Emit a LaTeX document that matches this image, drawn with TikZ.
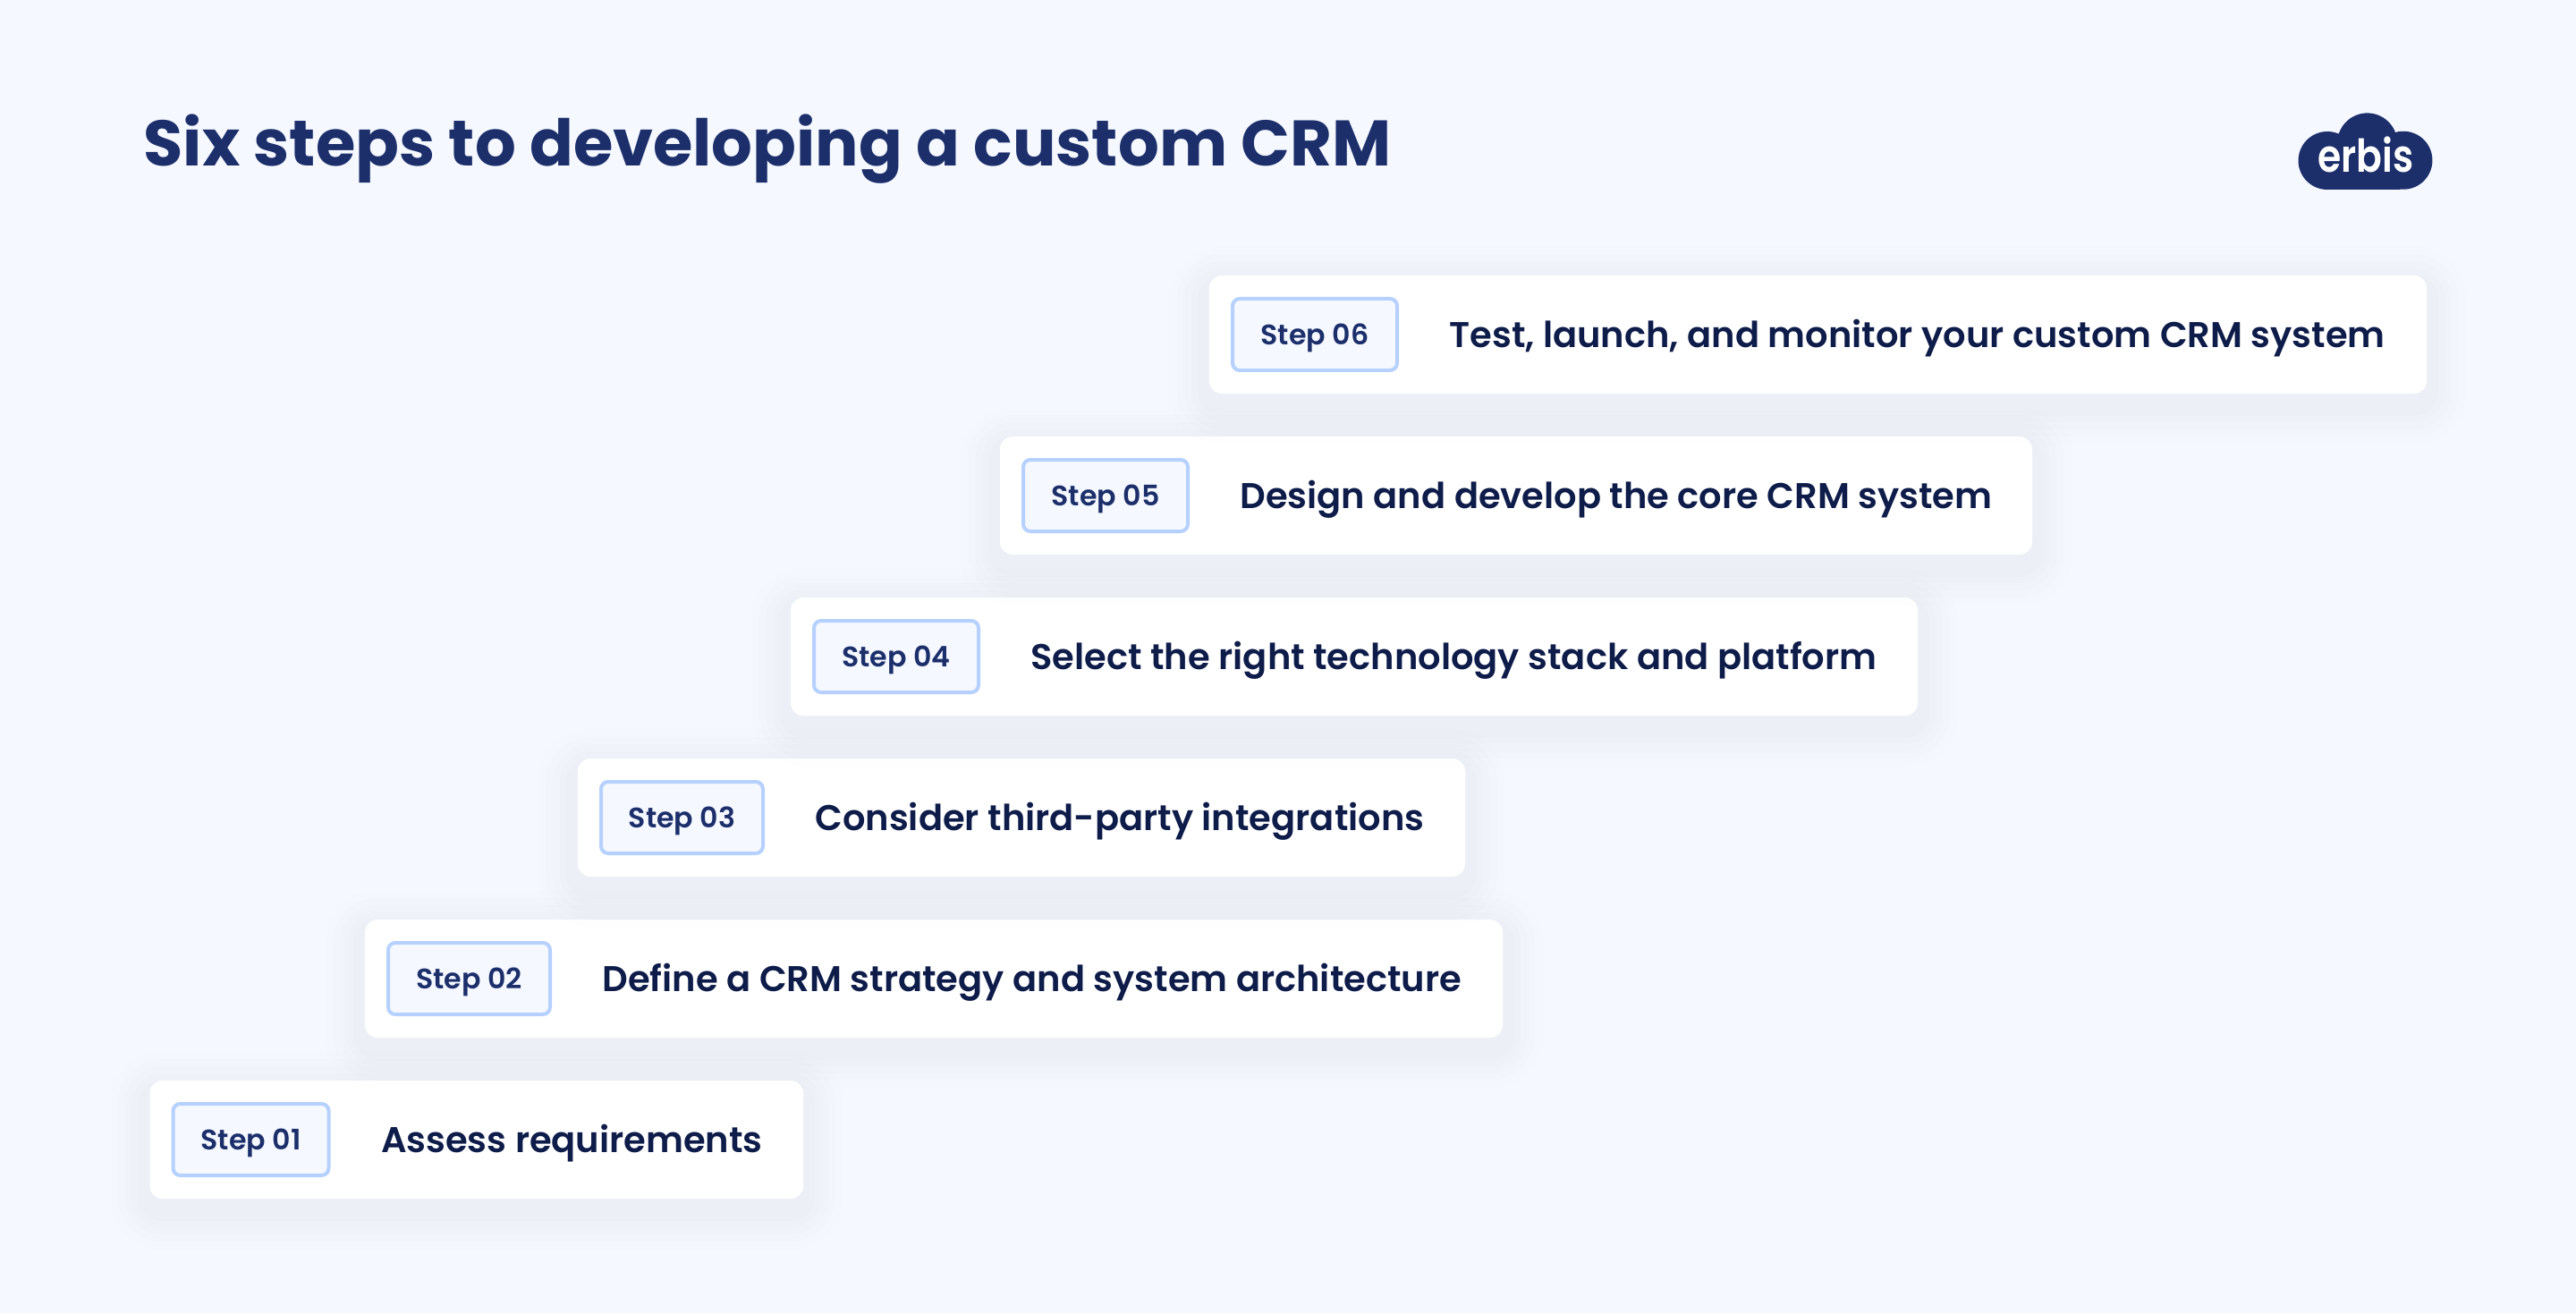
\documentclass[tikz,border=0pt]{standalone}
\usepackage{fontspec}
\setmainfont{Poppins}
\newfontfamily\semifont{Poppins SemiBold}
\usepackage{xcolor}
\usepackage{tikz}
\usetikzlibrary{positioning}

\definecolor{pagebg}{HTML}{F5F8FF}
\definecolor{navy}{HTML}{1C2F6B}
\definecolor{inkblue}{HTML}{0E1C4A}
\definecolor{tagline}{HTML}{B6D1FF}

\tikzset{
	softshadow/.style={
		preaction={draw=navy,draw opacity=.005,line width=.90cm,transform canvas={yshift=-.12cm}},
		preaction={draw=navy,draw opacity=.006,line width=.72cm,transform canvas={yshift=-.12cm}},
		preaction={draw=navy,draw opacity=.007,line width=.56cm,transform canvas={yshift=-.12cm}},
		preaction={draw=navy,draw opacity=.008,line width=.40cm,transform canvas={yshift=-.12cm}},
		preaction={draw=navy,draw opacity=.009,line width=.26cm,transform canvas={yshift=-.12cm}}},
	card/.style={softshadow,fill=white,rounded corners=.14cm,anchor=north west,
		minimum height=1.32cm,inner sep=0pt,outer sep=0pt},
	stepbox/.style={draw=tagline,line width=.04cm,fill=pagebg,rounded corners=.08cm,
		minimum height=.80cm,inner sep=0pt,outer sep=0pt,text=navy,
		font=\semifont\fontsize{9}{11}\selectfont,text height=.23cm,text depth=0pt},
	steptext/.style={inner sep=0pt,outer sep=0pt,text=inkblue,
		font=\semifont\fontsize{11.38}{14}\selectfont,text height=.29cm,text depth=0pt}
}

\begin{document}
\begin{tikzpicture}[node distance=.585cm]
	\fill[pagebg] (0,0) rectangle (28.8,14.68);
	\useasboundingbox (0,0) rectangle (28.8,14.68);

	\node[anchor=base west,inner sep=0pt,text=navy,font=\bfseries\fontsize{20.48}{26}\selectfont] (title) at (1.60,12.82) {Six steps to developing a custom CRM};

	% logo
	\fill[navy] (26.02,12.56) arc[start angle=270,end angle=67,radius=.325]
		-- (26.15,13.19) arc[start angle=161,end angle=21,radius=.335]
		-- (26.78,13.2) arc[start angle=106,end angle=-90,radius=.325] -- cycle;
	\node[anchor=base,text=white,inner sep=0pt,font=\semifont\fontsize{14.4}{16}\selectfont,xscale=.84] (logo) at (26.45,12.75) {erbis};

	% cards, bottom to top
	\node[card,minimum width=7.305cm] (c1) at (1.675,2.60) {};
	\node[card,minimum width=12.72cm] (c2) at (4.08,4.40) {};
	\node[card,minimum width=9.92cm] (c3) at (6.46,6.20) {};
	\node[card,minimum width=12.60cm] (c4) at (8.84,8.00) {};
	\node[card,minimum width=11.54cm] (c5) at (11.18,9.80) {};
	\node[card,minimum width=13.61cm] (c6) at (13.52,11.60) {};

	\node[stepbox,minimum width=1.74cm,right=.26cm of c1.west] (s1) {Step 01};
	\node[stepbox,minimum width=1.81cm,right=.26cm of c2.west] (s2) {Step 02};
	\node[stepbox,minimum width=1.81cm,right=.26cm of c3.west] (s3) {Step 03};
	\node[stepbox,minimum width=1.84cm,right=.26cm of c4.west] (s4) {Step 04};
	\node[stepbox,minimum width=1.84cm,right=.26cm of c5.west] (s5) {Step 05};
	\node[stepbox,minimum width=1.84cm,right=.26cm of c6.west] (s6) {Step 06};

	\node[steptext,right=of s1.east] (t1) {Assess requirements};
	\node[steptext,right=of s2.east] (t2) {Define a CRM strategy and system architecture};
	\node[steptext,right=of s3.east] (t3) {Consider third-party integrations};
	\node[steptext,right=of s4.east] (t4) {Select the right technology stack and platform};
	\node[steptext,right=of s5.east] (t5) {Design and develop the core CRM system};
	\node[steptext,right=of s6.east] (t6) {Test, launch, and monitor your custom CRM system};
\end{tikzpicture}
\end{document}
